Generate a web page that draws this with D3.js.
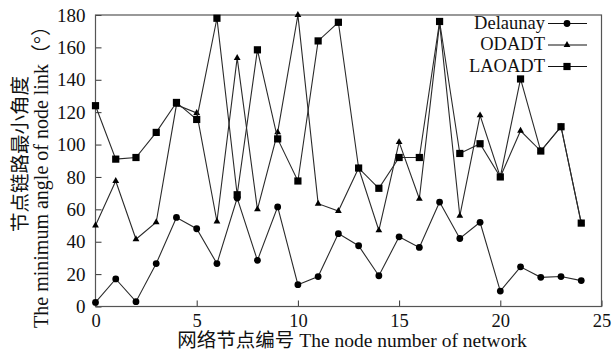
<!DOCTYPE html>
<html>
<head>
<meta charset="utf-8">
<script src="https://cdn.jsdelivr.net/npm/d3@7"></script>
<style>
  body { margin: 0; background: #fff; }
  svg { display: block; font-family: "Liberation Serif", "Noto Sans CJK SC", serif; }
</style>
</head>
<body>
<svg id="chart" width="615" height="358"></svg>
<script>
// node index 0..24
const nodes = d3.range(0, 25);

// minimum angle of node link (degrees)
const delaunay = [2.5, 17, 3, 26.5, 55, 48, 26.5, 67, 28.5, 61.5, 13.5, 18.5, 45, 37.5, 19, 43, 36.5, 64.5, 42, 52, 9.5, 24.5, 18, 18.5, 16];
const odadt = [50, 77.5, 41.5, 52, 124.5, 119.5, 52.5, 153.5, 60, 107.5, 180, 63.5, 59, 85.5, 47, 101.5, 66.5, 175, 56, 118, 80, 108.5, 96, 111, 51.5];
const laoadt = [124, 91, 92, 107.5, 126, 115.5, 178, 69, 158.5, 103.5, 77.5, 164, 175.5, 85.5, 73, 92, 92, 176, 94.5, 100.5, 80, 140.5, 96, 111, 51.5];

const seriesNames = ["Delaunay", "ODADT", "LAOADT"];
const seriesValues = [delaunay, odadt, laoadt];
const seriesSymbols = ["circle", "triangle", "square"];

const xTicks = [0, 5, 10, 15, 20, 25];
const yTicks = [0, 20, 40, 60, 80, 100, 120, 140, 160, 180];

const xTitle = "网络节点编号 The node number of network";
const yTitleCn = "节点链路最小角度";
const yTitleEn = "The minimum angle of node link（°）";

const margin = { left: 95.5, right: 13.5, top: 15, bottom: 51.5 };
const width = 615, height = 358;

const svg = d3.select("#chart");

const x = d3.scaleLinear().domain([0, 25]).range([margin.left, width - margin.right]);
const y = d3.scaleLinear().domain([0, 180]).range([height - margin.bottom, margin.top]);

// marker drawer
const drawMarker = (g, kind) => {
  if (kind === "circle") {
    g.append("circle").attr("r", 3.4).attr("fill", "#000");
  } else if (kind === "square") {
    g.append("rect").attr("x", -3.6).attr("y", -3.6).attr("width", 7.2).attr("height", 7.2).attr("fill", "#000");
  } else {
    g.append("path").attr("d", d3.symbol(d3.symbolTriangle, 20)()).attr("fill", "#000");
  }
};

// ticks inside the frame
svg.append("g")
  .attr("transform", `translate(0,${y(0)})`)
  .call(d3.axisBottom(x).tickValues(xTicks).tickSize(-6).tickPadding(7))
  .call(g => g.select(".domain").remove())
  .call(g => g.selectAll("line").attr("stroke", "#333"))
  .call(g => g.selectAll("text").attr("font-size", 18.5).attr("fill", "#111").attr("font-family", "Liberation Serif"));

svg.append("g")
  .attr("transform", `translate(${x(0)},0)`)
  .call(d3.axisLeft(y).tickValues(yTicks).tickSize(-6).tickPadding(10))
  .call(g => g.select(".domain").remove())
  .call(g => g.selectAll("line").attr("stroke", "#333"))
  .call(g => g.selectAll("text").attr("font-size", 19).attr("fill", "#111").attr("font-family", "Liberation Serif"));

// frame
svg.append("rect")
  .attr("x", x(0)).attr("y", y(180))
  .attr("width", x(25) - x(0)).attr("height", y(0) - y(180))
  .attr("fill", "none").attr("stroke", "#555").attr("stroke-width", 1.2);

const line = d3.line()
  .x((d, i) => x(nodes[i]))
  .y(d => y(d));

seriesValues.forEach((vals, k) => {
  svg.append("path")
    .datum(vals)
    .attr("d", line)
    .attr("fill", "none")
    .attr("stroke", "#2a2a2a")
    .attr("stroke-width", 1.1);

  svg.append("g")
    .selectAll("g")
    .data(vals)
    .join("g")
    .attr("transform", (d, i) => `translate(${x(nodes[i])},${y(d)})`)
    .each(function () { drawMarker(d3.select(this), seriesSymbols[k]); });
});

// legend
const legend = svg.append("g");
seriesNames.forEach((name, k) => {
  const by = 28.5 + k * 21.5;
  legend.append("text")
    .attr("x", 545).attr("y", by)
    .attr("text-anchor", "end")
    .attr("font-size", 18.5)
    .attr("fill", "#111")
    .text(name);
  legend.append("line")
    .attr("x1", 548).attr("x2", 587)
    .attr("y1", by - 5).attr("y2", by - 5)
    .attr("stroke", "#111").attr("stroke-width", 1.1);
  drawMarker(legend.append("g").attr("transform", `translate(567,${by - 5})`), seriesSymbols[k]);
});

// axis titles
svg.append("text")
  .attr("x", 352).attr("y", 347)
  .attr("text-anchor", "middle")
  .attr("font-size", 19.5)
  .attr("fill", "#111")
  .text(xTitle);

svg.append("text")
  .attr("transform", "translate(27,154) rotate(-90)")
  .attr("text-anchor", "middle")
  .attr("font-size", 19.5)
  .attr("fill", "#111")
  .text(yTitleCn);

svg.append("text")
  .attr("transform", "translate(48,172) rotate(-90)")
  .attr("text-anchor", "middle")
  .attr("font-size", 20)
  .attr("fill", "#111")
  .text(yTitleEn);
</script>
</body>
</html>
